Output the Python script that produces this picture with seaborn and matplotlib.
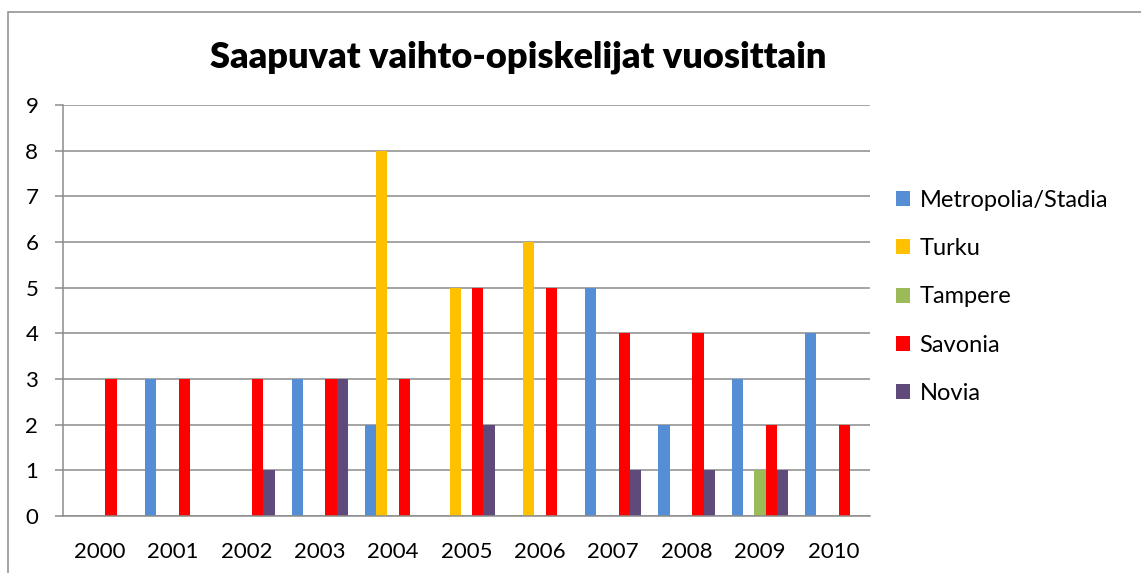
import pandas as pd
import numpy as np
import matplotlib.pyplot as plt
import seaborn as sns
from matplotlib.patches import Rectangle

# Data
vuodet = ["2000", "2001", "2002", "2003", "2004", "2005", "2006", "2007", "2008", "2009", "2010"]
sarjat = ["Metropolia/Stadia", "Turku", "Tampere", "Savonia", "Novia"]
metropolia = [0, 3, 0, 3, 2, 0, 0, 5, 2, 3, 4]
turku = [0, 0, 0, 0, 8, 5, 6, 0, 0, 0, 0]
tampere = [0, 0, 0, 0, 0, 0, 0, 0, 0, 1, 0]
savonia = [3, 3, 3, 3, 3, 5, 5, 4, 4, 2, 2]
novia = [0, 0, 1, 3, 0, 2, 0, 1, 1, 1, 0]
varit = ["#558ED5", "#FFC000", "#9BBB59", "#FF0000", "#604A7B"]

df = pd.DataFrame({"Vuosi": vuodet, "Metropolia/Stadia": metropolia, "Turku": turku,
                   "Tampere": tampere, "Savonia": savonia, "Novia": novia})
df_long = df.melt(id_vars="Vuosi", var_name="Sarja", value_name="Maara")

sns.set_style("white")
plt.rcParams["font.family"] = ["Lato", "DejaVu Sans"]
plt.rcParams["text.color"] = "black"
plt.rcParams["xtick.labelcolor"] = "black"
plt.rcParams["ytick.labelcolor"] = "black"

fig = plt.figure(figsize=(11.41, 5.73), dpi=100)
ax = fig.add_axes([0.0552, 0.0995, 0.7073, 0.7173])

sns.barplot(data=df_long, x="Vuosi", y="Maara", hue="Sarja", hue_order=sarjat,
            palette=varit, width=5 / 6.5, saturation=1, ax=ax, linewidth=0)

harmaa = "#8C8C8C"
ax.set_ylim(0, 9)
ax.set_xlim(-0.5, len(vuodet) - 0.5)
ax.set_yticks(range(0, 10))
ax.grid(axis="y", color=harmaa, linewidth=1.1)
ax.set_axisbelow(True)
for s in ["top", "right"]:
    ax.spines[s].set_visible(False)
for s in ["left", "bottom"]:
    ax.spines[s].set_color(harmaa)
    ax.spines[s].set_linewidth(1.1)

ax.set_xticks(np.arange(-0.5, len(vuodet)), minor=True)
ax.tick_params(axis="x", which="major", length=0, pad=18.5, labelsize=16, labelcolor="black")
ax.tick_params(axis="x", which="minor", length=5.8, color=harmaa, width=1.1, direction="out")
ax.tick_params(axis="y", length=5.8, color=harmaa, width=1.1, direction="out",
               labelsize=16, pad=12, left=True, labelcolor="black")
ax.set_xlabel("")
ax.set_ylabel("")

fig.text(0.454, 0.90, "Saapuvat vaihto-opiskelijat vuosittain", ha="center", va="center",
         fontsize=26, fontweight="heavy", color="black")

leg = ax.legend(loc="center left", bbox_to_anchor=(1.032, 0.533), frameon=False,
                fontsize=17, handlelength=0.6, handleheight=0.6, handletextpad=0.4,
                labelspacing=1.15, borderaxespad=0, borderpad=0)
for t in leg.get_texts():
    t.set_color("black")

fig.patches.append(Rectangle((8 / 1141, -0.05), 1.2, 1 - 12 / 573 + 0.05,
                             transform=fig.transFigure, fill=False,
                             edgecolor=harmaa, linewidth=1.1))

fig.savefig("out.png", dpi=100)
